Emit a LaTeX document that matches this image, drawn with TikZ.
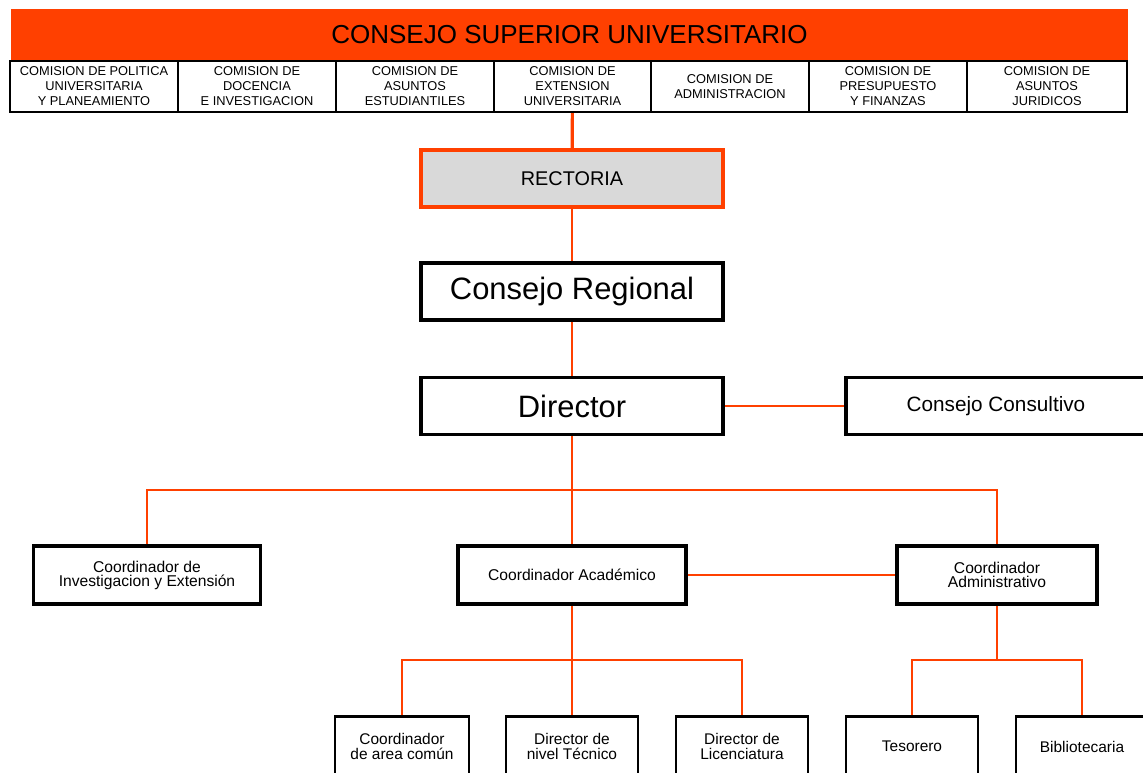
\documentclass[tikz,border=0pt]{standalone}
\usepackage{fontspec}
\setmainfont{Liberation Sans}
\usepackage{tikz}
\definecolor{naranja}{RGB}{255,64,0}
\definecolor{gris}{RGB}{217,217,217}

\begin{document}
\begin{tikzpicture}[x=0.02cm, y=-0.02cm, line width=1.1pt,
    caja/.style={draw=black, rectangle, inner sep=0pt, align=center, fill=white},
    comision/.style={caja, line width=1.4pt, minimum height=1.02cm,
                     font=\fontsize{7.3}{8.5}\selectfont},
    mando/.style={caja, line width=2.2pt, minimum width=6.04cm, minimum height=1.14cm,
                  font=\fontsize{17.6}{20}\selectfont},
    coord/.style={caja, line width=1.9pt, minimum height=1.16cm,
                  font=\fontsize{8.9}{8}\selectfont},
    unidad/.style={caja, line width=1.2pt, minimum width=2.64cm, minimum height=1.2cm,
                   font=\fontsize{8.8}{8.4}\selectfont},
    rama/.style={draw=naranja, line width=1.15pt}]
    \useasboundingbox (0,0) rectangle (1143,772);

    \node[fill=naranja, minimum width=22.34cm, minimum height=1.04cm, inner sep=0pt,
          font=\fontsize{14.8}{16}\selectfont] (csu) at (569.5,34.5) {CONSEJO SUPERIOR UNIVERSITARIO};

    \node[comision, minimum width=3.36cm](c1) at (94,86.5)   {COMISION DE POLITICA\\UNIVERSITARIA\\Y PLANEAMIENTO};
    \node[comision, minimum width=3.16cm](c2) at (257,86.5)  {COMISION DE\\DOCENCIA\\E INVESTIGACION};
    \node[comision, minimum width=3.16cm](c3) at (415,86.5)  {COMISION DE\\ASUNTOS\\ESTUDIANTILES};
    \node[comision, minimum width=3.14cm](c4) at (572.5,86.5){COMISION DE\\EXTENSION\\UNIVERSITARIA};
    \node[comision, minimum width=3.16cm](c5) at (730,86.5)  {COMISION DE\\ADMINISTRACION};
    \node[comision, minimum width=3.16cm](c6) at (888,86.5)  {COMISION DE\\PRESUPUESTO\\Y FINANZAS};
    \node[comision, minimum width=3.20cm](c7) at (1047,86.5) {COMISION DE\\ASUNTOS\\JURIDICOS};

    \node[mando, draw=naranja, fill=gris, line width=2pt,
          font=\fontsize{11.3}{13}\selectfont](rect) at (572,178.5) {RECTORIA};
    \node[mando](reg) at (572,291.5) {Consejo Regional};
    \node[mando](dir) at (572,406) {Director};
    \node[mando, minimum width=6.0cm, font=\fontsize{11.8}{13}\selectfont](cons) at (996,406) {Consejo Consultivo};

    \node[coord, minimum width=4.54cm](cinv) at (147,575) {Coordinador de\\Investigacion y Extensión};
    \node[coord, minimum width=4.56cm](cacad) at (572,575) {Coordinador Académico};
    \node[coord, minimum width=4.0cm](cadm) at (997,575) {Coordinador\\Administrativo};

    \node[unidad, minimum width=2.68cm](area) at (402,746.5) {Coordinador\\de area común};
    \node[unidad](tec) at (572,746.5) {Director de\\nivel Técnico};
    \node[unidad](lic) at (742,746.5) {Director de\\Licenciatura};
    \node[unidad](tes) at (912,746.5) {Tesorero};
    \node[unidad](bib) at (1082,746.5) {Bibliotecaria};

    \coordinate(j1) at (572,490);
    \coordinate(j2) at (572,660);
    \coordinate(j3) at (997,660);

    \draw[rama, line width=1.8pt] (c4) edge (rect);
    \draw[rama] (rect) edge (reg)
                (reg) edge (dir)
                (dir) edge (cons)
                (dir) edge (j1)
                (j1) edge (cacad)
                (cacad) edge (cadm)
                (cacad) edge (j2)
                (j2) edge (tec)
                (cadm) edge (j3);
    \draw[rama] (cinv.north) |- (j1) -| (cadm.north);
    \draw[rama] (area.north) |- (j2) -| (lic.north);
    \draw[rama] (tes.north) |- (j3) -| (bib.north);
\end{tikzpicture}
\end{document}
